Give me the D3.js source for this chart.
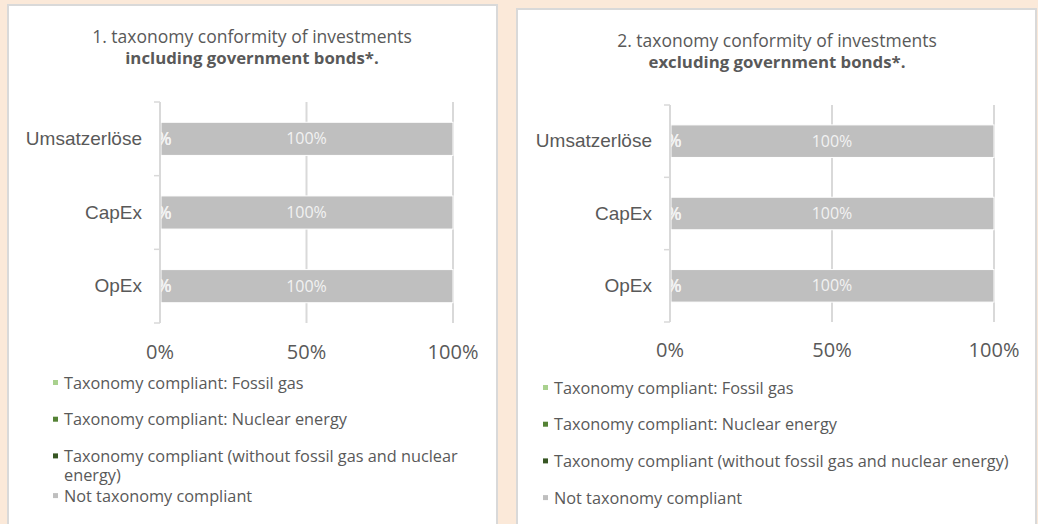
<!DOCTYPE html>
<html>
<head>
<meta charset="utf-8">
<script src="https://cdn.jsdelivr.net/npm/d3@7"></script>
<style>
  html, body { margin: 0; padding: 0; background: #fbe9d9; }
  svg { display: block; font-family: "Open Sans", "DejaVu Sans", sans-serif; }
</style>
</head>
<body>
<svg id="chart" width="1038" height="524"></svg>
<script>
/* data */
const categories = ["Umsatzerlöse", "CapEx", "OpEx"];
const seriesNames = [
  "Taxonomy compliant: Fossil gas",
  "Taxonomy compliant: Nuclear energy",
  "Taxonomy compliant (without fossil gas and nuclear energy)",
  "Not taxonomy compliant"
];
const seriesColors = ["#a9d18e", "#548235", "#375623", "#bfbfbf"];
const xTicks = [0, 50, 100];

// 1. including government bonds
const inclFossil = [0, 0, 0];
const inclNuclear = [0, 0, 0];
const inclCompliant = [0, 0, 0];
const inclNot = [100, 100, 100];

// 2. excluding government bonds
const exclFossil = [0, 0, 0];
const exclNuclear = [0, 0, 0];
const exclCompliant = [0, 0, 0];
const exclNot = [100, 100, 100];

const textCol = "#595959";
const gridCol = "#d9d9d9";

const svg = d3.select("#chart");

function table(a, b, c, d) {
  return categories.map((cat, i) => ({
    cat, s0: a[i], s1: b[i], s2: c[i], s3: d[i]
  }));
}

function panel(opt) {
  let g = svg.append("g");

  // card
  g.append("rect")
    .attr("x", opt.box[0]).attr("y", opt.box[1])
    .attr("width", opt.box[2]).attr("height", opt.box[3])
    .attr("fill", "#fff")
    .attr("stroke", gridCol)
    .attr("stroke-width", 2);

  // title
  let t = g.append("text")
    .attr("text-anchor", "middle")
    .attr("fill", textCol)
    .attr("font-size", 17.5);
  t.append("tspan").attr("x", opt.titleX).attr("y", opt.titleY)
    .text(opt.title1);
  t.append("tspan").attr("x", opt.titleX).attr("y", opt.titleY + 21)
    .attr("font-weight", "bold").attr("font-size", 16.8)
    .text(opt.title2);

  let x = d3.scaleLinear().domain([0, 100]).range(opt.xRange);
  let y = d3.scaleBand().domain(categories).range(opt.yRange)
    .paddingInner(0.55).paddingOuter(0.275);

  // gridlines (no line at 0, the axis is there)
  g.append("g").selectAll("line")
    .data(xTicks.filter(d => d > 0))
    .enter().append("line")
    .attr("x1", d => x(d)).attr("x2", d => x(d))
    .attr("y1", opt.yRange[0]).attr("y2", opt.yRange[1])
    .attr("stroke", gridCol).attr("stroke-width", 2);

  // bars
  let keys = ["s0", "s1", "s2", "s3"];
  let stacked = d3.stack().keys(keys)(opt.data);

  let clipId = "clip" + opt.id;
  g.append("clipPath").attr("id", clipId)
    .append("rect")
    .attr("x", opt.xRange[0]).attr("y", opt.yRange[0])
    .attr("width", opt.xRange[1] - opt.xRange[0] + 40)
    .attr("height", opt.yRange[1] - opt.yRange[0]);

  let layer = g.append("g").selectAll("g")
    .data(stacked)
    .enter().append("g")
    .attr("fill", (d, i) => seriesColors[i]);

  layer.selectAll("rect")
    .data(d => d)
    .enter().append("rect")
    .attr("x", d => x(d[0]) + 1)
    .attr("y", d => y(d.data.cat))
    .attr("width", d => Math.max(0, x(d[1]) - x(d[0]) - 1))
    .attr("height", y.bandwidth())
    .attr("stroke", "#fff")
    .attr("stroke-width", 1);

  // value labels (zero segments sit on the axis and get clipped)
  let lab = g.append("g").attr("clip-path", "url(#" + clipId + ")");
  stacked.forEach(s => {
    lab.selectAll(null)
      .data(s)
      .enter().append("text")
      .attr("x", d => x((d[0] + d[1]) / 2) - (d[1] - d[0] === 0 ? 1 : 0))
      .attr("y", d => y(d.data.cat) + y.bandwidth() / 2)
      .attr("dy", "0.35em")
      .attr("text-anchor", "middle")
      .attr("font-size", d => d[1] - d[0] === 0 ? 18 : 16)
      .attr("fill", "#f2f2f2")
      .text(d => Math.round(d[1] - d[0]) + "%");
  });

  // y axis
  let yAxis = g.append("g")
    .attr("transform", "translate(" + opt.xRange[0] + ",0)")
    .call(d3.axisLeft(y).tickSize(0).tickPadding(18));
  yAxis.select(".domain").remove();
  yAxis.selectAll("text")
    .attr("font-size", 19).attr("fill", textCol)
    .attr("font-family", null);

  let edges = categories.map(c => y(c) - y.step() * y.paddingInner() / 2);
  edges.push(opt.yRange[1]);
  edges[0] = opt.yRange[0];
  g.append("line")
    .attr("x1", opt.xRange[0]).attr("x2", opt.xRange[0])
    .attr("y1", opt.yRange[0]).attr("y2", opt.yRange[1])
    .attr("stroke", gridCol).attr("stroke-width", 2);
  g.append("g").selectAll("line")
    .data(edges)
    .enter().append("line")
    .attr("x1", opt.xRange[0] - 6).attr("x2", opt.xRange[0])
    .attr("y1", d => d).attr("y2", d => d)
    .attr("stroke", gridCol).attr("stroke-width", 1.5);

  // x tick labels
  g.append("g").selectAll("text")
    .data(xTicks)
    .enter().append("text")
    .attr("x", d => x(d))
    .attr("y", opt.tickY)
    .attr("text-anchor", "middle")
    .attr("font-size", 20)
    .attr("fill", textCol)
    .text(d => d + "%");

  // legend
  let leg = g.append("g");
  let extra = 0;
  seriesNames.forEach((name, i) => {
    let ly = opt.legY + i * 36.7 + extra;
    leg.append("rect")
      .attr("x", opt.legX - 11).attr("y", ly - 3)
      .attr("width", 5).attr("height", 5)
      .attr("fill", seriesColors[i]);
    let txt = leg.append("text")
      .attr("x", opt.legX).attr("y", ly)
      .attr("dy", "0.35em")
      .attr("font-size", 16.3)
      .attr("fill", textCol)
      .text(name);
    // wrap if too long
    if (txt.node().getComputedTextLength() > opt.legW) {
      let words = name.split(" ");
      let line = [];
      txt.text(null);
      let ts = txt.append("tspan").attr("x", opt.legX);
      words.forEach(w => {
        line.push(w);
        ts.text(line.join(" "));
        if (ts.node().getComputedTextLength() > opt.legW && line.length > 1) {
          line.pop();
          ts.text(line.join(" "));
          line = [w];
          ts = txt.append("tspan").attr("x", opt.legX)
            .attr("dy", 19).text(w);
          extra += 3;
        }
      });
    }
  });
}

panel({
  id: 1,
  box: [8, 5, 489, 540],
  title1: "1. taxonomy conformity of investments",
  title2: "including government bonds*.",
  titleX: 252, titleY: 43,
  xRange: [160, 453],
  yRange: [102, 323],
  tickY: 359,
  data: table(inclFossil, inclNuclear, inclCompliant, inclNot),
  legX: 64, legY: 383, legW: 420
});

panel({
  id: 2,
  box: [517, 9, 519, 540],
  title1: "2. taxonomy conformity of investments",
  title2: "excluding government bonds*.",
  titleX: 777, titleY: 47,
  xRange: [670, 994],
  yRange: [105, 322],
  tickY: 357,
  data: table(exclFossil, exclNuclear, exclCompliant, exclNot),
  legX: 554, legY: 388, legW: 475
});
</script>
</body>
</html>
